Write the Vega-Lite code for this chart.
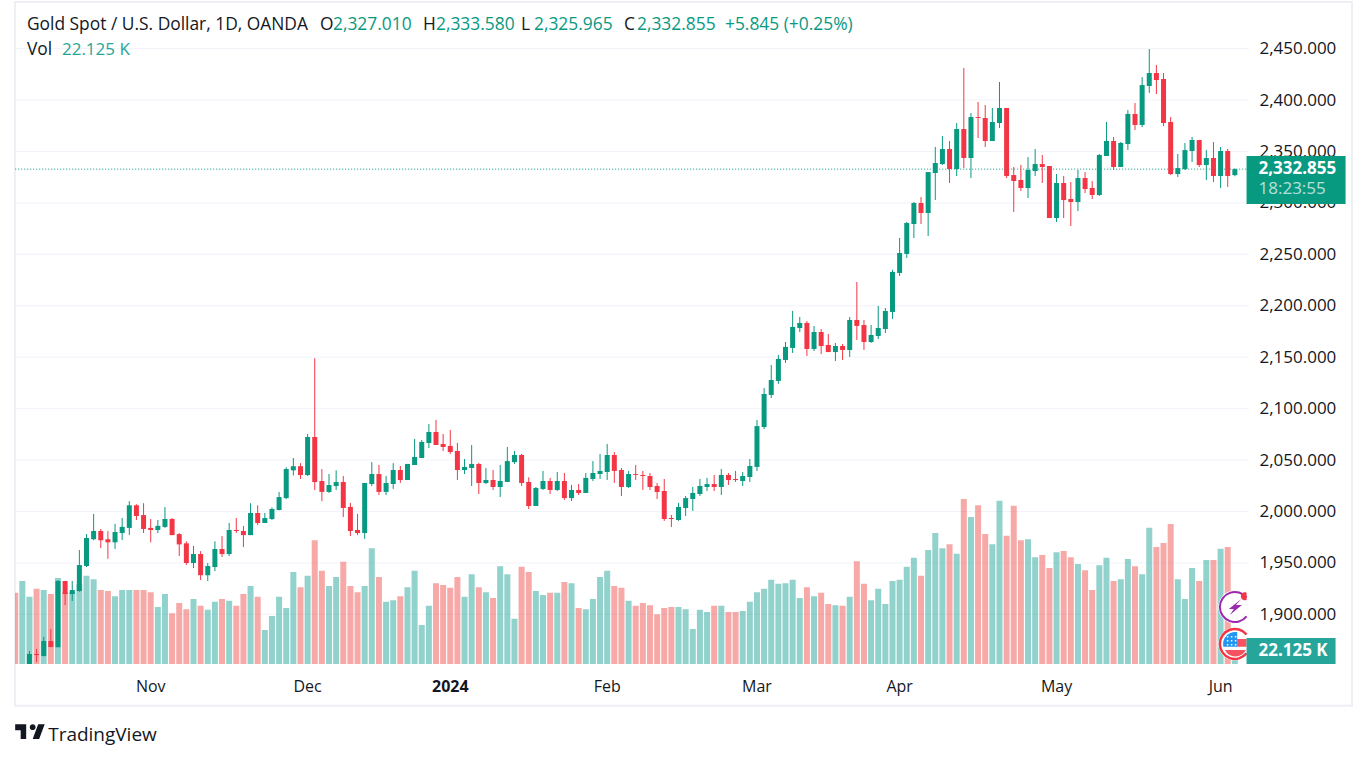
{
  "$schema": "https://vega.github.io/schema/vega-lite/v6.json",
  "width": 1337,
  "height": 703.7,
  "autosize": "none",
  "padding": {"left": 15, "top": 2, "right": 9, "bottom": 52},
  "background": "#ffffff",
  "title": {"text": "TradingView", "orient": "bottom", "anchor": "start", "offset": -13, "dx": 35, "font": "Open Sans", "fontSize": 19, "fontWeight": "normal", "color": "#131722"},
  "config": {
    "view": {"stroke": "#eeeff5", "strokeWidth": 2},
    "text": {"font": "Open Sans"}
  },
  "datasets": {
    "candles": [
      {"date":"2023-10-05","volume":126,"dir":"down"},
      {"date":"2023-10-06","volume":147,"dir":"up"},
      {"date":"2023-10-09","open":1832,"high":1864.3,"low":1830,"close":1861.4,"volume":119,"dir":"up"},
      {"date":"2023-10-10","open":1861.4,"high":1866.3,"low":1853.6,"close":1860.4,"volume":133,"dir":"down"},
      {"date":"2023-10-11","open":1859.5,"high":1878,"low":1859,"close":1874,"volume":131,"dir":"up"},
      {"date":"2023-10-12","open":1874,"high":1885.7,"low":1868,"close":1868.2,"volume":124,"dir":"down"},
      {"date":"2023-10-13","open":1868,"high":1933.4,"low":1868,"close":1932.4,"volume":152,"dir":"up"},
      {"date":"2023-10-16","open":1932.4,"high":1932.5,"low":1909,"close":1919.7,"volume":127,"dir":"down"},
      {"date":"2023-10-17","open":1919.7,"high":1932.4,"low":1913,"close":1923.6,"volume":127,"dir":"up"},
      {"date":"2023-10-18","open":1922.6,"high":1962.5,"low":1922,"close":1947.9,"volume":142,"dir":"up"},
      {"date":"2023-10-19","open":1947,"high":1978,"low":1946,"close":1974.2,"volume":156,"dir":"up"},
      {"date":"2023-10-20","open":1973,"high":1997.5,"low":1972,"close":1981,"volume":150,"dir":"up"},
      {"date":"2023-10-23","open":1981,"high":1983,"low":1964.5,"close":1972,"volume":131,"dir":"down"},
      {"date":"2023-10-24","open":1973,"high":1981,"low":1954,"close":1970,"volume":129,"dir":"down"},
      {"date":"2023-10-25","open":1970,"high":1988,"low":1963.5,"close":1980,"volume":120,"dir":"up"},
      {"date":"2023-10-26","open":1979,"high":1993.6,"low":1972.2,"close":1985,"volume":131,"dir":"up"},
      {"date":"2023-10-27","open":1984,"high":2010,"low":1977,"close":2006,"volume":131,"dir":"up"},
      {"date":"2023-10-30","open":2006,"high":2007,"low":1991.7,"close":1995.6,"volume":131,"dir":"down"},
      {"date":"2023-10-31","open":1996.5,"high":2008,"low":1979,"close":1983,"volume":131,"dir":"down"},
      {"date":"2023-11-01","open":1984,"high":1992.7,"low":1970,"close":1982,"volume":127,"dir":"down"},
      {"date":"2023-11-02","open":1982,"high":1991.7,"low":1979,"close":1986,"volume":101,"dir":"up"},
      {"date":"2023-11-03","open":1985,"high":2004.3,"low":1984,"close":1992.7,"volume":124,"dir":"up"},
      {"date":"2023-11-06","open":1992.7,"high":1993.6,"low":1977,"close":1977,"volume":90,"dir":"down"},
      {"date":"2023-11-07","open":1978,"high":1979,"low":1956.7,"close":1968,"volume":108,"dir":"down"},
      {"date":"2023-11-08","open":1969,"high":1971,"low":1948,"close":1949.9,"volume":97,"dir":"down"},
      {"date":"2023-11-09","open":1949.9,"high":1966.4,"low":1945,"close":1958.6,"volume":115,"dir":"up"},
      {"date":"2023-11-10","open":1958.6,"high":1961.5,"low":1933.3,"close":1938,"volume":103,"dir":"down"},
      {"date":"2023-11-13","open":1938,"high":1949.9,"low":1932.4,"close":1947,"volume":96,"dir":"up"},
      {"date":"2023-11-14","open":1946,"high":1971,"low":1942,"close":1963.5,"volume":110,"dir":"up"},
      {"date":"2023-11-15","open":1963.5,"high":1976,"low":1955.7,"close":1958.6,"volume":115,"dir":"down"},
      {"date":"2023-11-16","open":1958.6,"high":1988.8,"low":1956.7,"close":1982,"volume":112,"dir":"up"},
      {"date":"2023-11-17","open":1982,"high":1993.6,"low":1979,"close":1981,"volume":103,"dir":"down"},
      {"date":"2023-11-20","open":1981,"high":1985.9,"low":1965.4,"close":1977,"volume":124,"dir":"down"},
      {"date":"2023-11-21","open":1977,"high":2008,"low":1977,"close":1998.5,"volume":138,"dir":"up"},
      {"date":"2023-11-22","open":1998.5,"high":2006,"low":1986.8,"close":1988.8,"volume":119,"dir":"down"},
      {"date":"2023-11-23","open":1988.8,"high":1998.5,"low":1988.8,"close":1993.6,"volume":60,"dir":"up"},
      {"date":"2023-11-24","open":1992.7,"high":2004,"low":1991.7,"close":2002.4,"volume":85,"dir":"up"},
      {"date":"2023-11-27","open":2001.4,"high":2019,"low":2001,"close":2014,"volume":119,"dir":"up"},
      {"date":"2023-11-28","open":2013,"high":2043,"low":2012,"close":2041.3,"volume":99,"dir":"up"},
      {"date":"2023-11-29","open":2040,"high":2052,"low":2035,"close":2044,"volume":163,"dir":"up"},
      {"date":"2023-11-30","open":2044,"high":2047,"low":2031.6,"close":2035.4,"volume":136,"dir":"down"},
      {"date":"2023-12-01","open":2035.4,"high":2075.3,"low":2034.5,"close":2072.4,"volume":156,"dir":"up"},
      {"date":"2023-12-04","open":2072.4,"high":2149,"low":2020.9,"close":2028.6,"volume":219,"dir":"down"},
      {"date":"2023-12-05","open":2029.6,"high":2041.3,"low":2010,"close":2019,"volume":165,"dir":"down"},
      {"date":"2023-12-06","open":2019,"high":2036.4,"low":2018,"close":2025.7,"volume":138,"dir":"up"},
      {"date":"2023-12-07","open":2024.7,"high":2040,"low":2020.9,"close":2028.6,"volume":154,"dir":"up"},
      {"date":"2023-12-08","open":2028.7,"high":2034.5,"low":1994.6,"close":2003.4,"volume":181,"dir":"down"},
      {"date":"2023-12-11","open":2004.4,"high":2008.3,"low":1976.2,"close":1981,"volume":138,"dir":"down"},
      {"date":"2023-12-12","open":1982,"high":1997.6,"low":1977.1,"close":1979,"volume":127,"dir":"down"},
      {"date":"2023-12-13","open":1979,"high":2027.7,"low":1973.3,"close":2027.7,"volume":138,"dir":"up"},
      {"date":"2023-12-14","open":2026.7,"high":2048,"low":2024.8,"close":2036.4,"volume":205,"dir":"up"},
      {"date":"2023-12-15","open":2036.4,"high":2045.2,"low":2016,"close":2019,"volume":154,"dir":"down"},
      {"date":"2023-12-18","open":2019,"high":2034.5,"low":2016,"close":2027.7,"volume":110,"dir":"up"},
      {"date":"2023-12-19","open":2026.7,"high":2047,"low":2021.9,"close":2040.3,"volume":113,"dir":"up"},
      {"date":"2023-12-20","open":2040.3,"high":2044.2,"low":2027.7,"close":2030.6,"volume":120,"dir":"down"},
      {"date":"2023-12-21","open":2030.6,"high":2046.2,"low":2030.6,"close":2046.2,"volume":136,"dir":"up"},
      {"date":"2023-12-22","open":2045.2,"high":2070.5,"low":2045.2,"close":2053,"volume":165,"dir":"up"},
      {"date":"2023-12-26","open":2052,"high":2069.5,"low":2052,"close":2067.6,"volume":69,"dir":"up"},
      {"date":"2023-12-27","open":2066.6,"high":2085,"low":2061.7,"close":2077.3,"volume":103,"dir":"up"},
      {"date":"2023-12-28","open":2077.3,"high":2089,"low":2064.6,"close":2064.6,"volume":143,"dir":"down"},
      {"date":"2023-12-29","open":2065.6,"high":2075.3,"low":2058.8,"close":2062.7,"volume":140,"dir":"down"},
      {"date":"2024-01-02","open":2063.7,"high":2079.2,"low":2055.9,"close":2057.8,"volume":135,"dir":"down"},
      {"date":"2024-01-03","open":2058.8,"high":2066.6,"low":2030.6,"close":2040.3,"volume":154,"dir":"down"},
      {"date":"2024-01-04","open":2040.3,"high":2051,"low":2036.4,"close":2043.3,"volume":119,"dir":"up"},
      {"date":"2024-01-05","open":2042.3,"high":2064.6,"low":2024.8,"close":2046.2,"volume":159,"dir":"up"},
      {"date":"2024-01-08","open":2046.2,"high":2047.2,"low":2017,"close":2027.7,"volume":136,"dir":"down"},
      {"date":"2024-01-09","open":2027.7,"high":2042.3,"low":2026.7,"close":2030.6,"volume":127,"dir":"up"},
      {"date":"2024-01-10","open":2030.6,"high":2040.3,"low":2020.9,"close":2023.8,"volume":117,"dir":"down"},
      {"date":"2024-01-11","open":2023.8,"high":2045.2,"low":2014,"close":2029.6,"volume":173,"dir":"up"},
      {"date":"2024-01-12","open":2028.7,"high":2062.7,"low":2028.7,"close":2049,"volume":159,"dir":"up"},
      {"date":"2024-01-15","open":2048,"high":2058.8,"low":2046.2,"close":2054.9,"volume":80,"dir":"up"},
      {"date":"2024-01-16","open":2054.9,"high":2055.9,"low":2024.8,"close":2027.7,"volume":172,"dir":"down"},
      {"date":"2024-01-17","open":2028.7,"high":2033.2,"low":2002.4,"close":2005.3,"volume":163,"dir":"down"},
      {"date":"2024-01-18","open":2005.3,"high":2023.8,"low":2005.3,"close":2022.8,"volume":129,"dir":"up"},
      {"date":"2024-01-19","open":2021.9,"high":2039.4,"low":2020.9,"close":2029.6,"volume":122,"dir":"up"},
      {"date":"2024-01-22","open":2029.6,"high":2032.6,"low":2017,"close":2020.9,"volume":126,"dir":"down"},
      {"date":"2024-01-23","open":2020.9,"high":2038.4,"low":2019.9,"close":2029.6,"volume":126,"dir":"up"},
      {"date":"2024-01-24","open":2029.6,"high":2037.4,"low":2011.2,"close":2013,"volume":145,"dir":"down"},
      {"date":"2024-01-25","open":2013,"high":2025.8,"low":2010.2,"close":2020.9,"volume":143,"dir":"up"},
      {"date":"2024-01-26","open":2020.9,"high":2026.7,"low":2016,"close":2018,"volume":99,"dir":"down"},
      {"date":"2024-01-29","open":2018,"high":2037.4,"low":2018,"close":2032.6,"volume":97,"dir":"up"},
      {"date":"2024-01-30","open":2031.6,"high":2049,"low":2029.6,"close":2037.4,"volume":115,"dir":"up"},
      {"date":"2024-01-31","open":2036.4,"high":2055.9,"low":2031.6,"close":2039.4,"volume":154,"dir":"up"},
      {"date":"2024-02-01","open":2038.4,"high":2065.6,"low":2030.6,"close":2054.9,"volume":165,"dir":"up"},
      {"date":"2024-02-02","open":2054.9,"high":2057.8,"low":2027.7,"close":2039.4,"volume":138,"dir":"down"},
      {"date":"2024-02-05","open":2040.3,"high":2042.3,"low":2015,"close":2023.8,"volume":135,"dir":"down"},
      {"date":"2024-02-06","open":2023.8,"high":2039.4,"low":2022.8,"close":2036.4,"volume":112,"dir":"up"},
      {"date":"2024-02-07","open":2036.4,"high":2045.2,"low":2030.6,"close":2035.5,"volume":103,"dir":"down"},
      {"date":"2024-02-08","open":2035.5,"high":2039.4,"low":2020.9,"close":2034.5,"volume":108,"dir":"down"},
      {"date":"2024-02-09","open":2034.5,"high":2037.4,"low":2020.9,"close":2023.8,"volume":104,"dir":"down"},
      {"date":"2024-02-12","open":2024.8,"high":2027.7,"low":2012.1,"close":2018.9,"volume":88,"dir":"down"},
      {"date":"2024-02-13","open":2019.9,"high":2031.6,"low":1990.8,"close":1992.7,"volume":99,"dir":"down"},
      {"date":"2024-02-14","open":1993.7,"high":1996.6,"low":1984.9,"close":1992.7,"volume":101,"dir":"down"},
      {"date":"2024-02-15","open":1991.7,"high":2008.3,"low":1990.8,"close":2004.4,"volume":101,"dir":"up"},
      {"date":"2024-02-16","open":2003.4,"high":2015,"low":1995.6,"close":2013,"volume":97,"dir":"up"},
      {"date":"2024-02-19","open":2012.1,"high":2023.8,"low":2000.5,"close":2018,"volume":62,"dir":"up"},
      {"date":"2024-02-20","open":2017,"high":2031.6,"low":2015,"close":2024.8,"volume":96,"dir":"up"},
      {"date":"2024-02-21","open":2023.8,"high":2032.6,"low":2019.9,"close":2026.7,"volume":92,"dir":"up"},
      {"date":"2024-02-22","open":2026.7,"high":2035.5,"low":2019.9,"close":2023.8,"volume":103,"dir":"down"},
      {"date":"2024-02-23","open":2023.8,"high":2041.3,"low":2016,"close":2035.5,"volume":103,"dir":"up"},
      {"date":"2024-02-26","open":2035.5,"high":2037.4,"low":2025.8,"close":2030.6,"volume":92,"dir":"down"},
      {"date":"2024-02-27","open":2031.6,"high":2039.4,"low":2028.7,"close":2030.6,"volume":92,"dir":"down"},
      {"date":"2024-02-28","open":2029.6,"high":2038.4,"low":2024.8,"close":2034.5,"volume":94,"dir":"up"},
      {"date":"2024-02-29","open":2033.5,"high":2051,"low":2028.7,"close":2044.2,"volume":110,"dir":"up"},
      {"date":"2024-03-01","open":2043.3,"high":2089,"low":2039.4,"close":2083,"volume":127,"dir":"up"},
      {"date":"2024-03-04","open":2082.1,"high":2120,"low":2080.2,"close":2114.2,"volume":133,"dir":"up"},
      {"date":"2024-03-05","open":2113.3,"high":2142.4,"low":2110.3,"close":2127.8,"volume":149,"dir":"up"},
      {"date":"2024-03-06","open":2126.9,"high":2152.2,"low":2124,"close":2148.3,"volume":142,"dir":"up"},
      {"date":"2024-03-07","open":2147.3,"high":2164.8,"low":2144.4,"close":2160,"volume":143,"dir":"up"},
      {"date":"2024-03-08","open":2159,"high":2195,"low":2154.1,"close":2179.4,"volume":149,"dir":"up"},
      {"date":"2024-03-11","open":2178.4,"high":2189.1,"low":2174.5,"close":2183.3,"volume":117,"dir":"up"},
      {"date":"2024-03-12","open":2183.3,"high":2185.2,"low":2151.2,"close":2158,"volume":136,"dir":"down"},
      {"date":"2024-03-13","open":2158,"high":2180.4,"low":2156,"close":2174.5,"volume":120,"dir":"up"},
      {"date":"2024-03-14","open":2174.5,"high":2177.4,"low":2153.1,"close":2160.9,"volume":126,"dir":"down"},
      {"date":"2024-03-15","open":2161.9,"high":2172.6,"low":2155,"close":2155,"volume":106,"dir":"down"},
      {"date":"2024-03-18","open":2155,"high":2163.8,"low":2146.3,"close":2160.9,"volume":104,"dir":"up"},
      {"date":"2024-03-19","open":2160.9,"high":2162.9,"low":2147.3,"close":2157,"volume":103,"dir":"down"},
      {"date":"2024-03-20","open":2157,"high":2189.1,"low":2150.2,"close":2186.2,"volume":119,"dir":"up"},
      {"date":"2024-03-21","open":2186.2,"high":2223.1,"low":2166.7,"close":2180.4,"volume":182,"dir":"down"},
      {"date":"2024-03-22","open":2181.3,"high":2186.2,"low":2157,"close":2164.8,"volume":142,"dir":"down"},
      {"date":"2024-03-25","open":2164.8,"high":2181.3,"low":2163.8,"close":2171.6,"volume":113,"dir":"up"},
      {"date":"2024-03-26","open":2170.6,"high":2199.8,"low":2167.7,"close":2178.4,"volume":133,"dir":"up"},
      {"date":"2024-03-27","open":2177.4,"high":2197.9,"low":2173.5,"close":2194.9,"volume":106,"dir":"up"},
      {"date":"2024-03-28","open":2194,"high":2235,"low":2187.2,"close":2232.9,"volume":147,"dir":"up"},
      {"date":"2024-04-01","open":2231.9,"high":2265.9,"low":2229,"close":2251.3,"volume":149,"dir":"up"},
      {"date":"2024-04-02","open":2250.4,"high":2281.5,"low":2246.5,"close":2280.5,"volume":172,"dir":"up"},
      {"date":"2024-04-03","open":2279.5,"high":2300.9,"low":2265.9,"close":2299.9,"volume":188,"dir":"up"},
      {"date":"2024-04-04","open":2299.9,"high":2305.7,"low":2279.5,"close":2290.2,"volume":156,"dir":"down"},
      {"date":"2024-04-05","open":2290.2,"high":2330,"low":2267.8,"close":2330,"volume":202,"dir":"up"},
      {"date":"2024-04-08","open":2329.1,"high":2354.4,"low":2302.8,"close":2338.8,"volume":232,"dir":"up"},
      {"date":"2024-04-09","open":2337.8,"high":2365,"low":2336.9,"close":2352.4,"volume":205,"dir":"up"},
      {"date":"2024-04-10","open":2352.4,"high":2360.2,"low":2319.4,"close":2333,"volume":212,"dir":"down"},
      {"date":"2024-04-11","open":2333,"high":2377.7,"low":2326.2,"close":2371.9,"volume":195,"dir":"up"},
      {"date":"2024-04-12","open":2371.9,"high":2431.2,"low":2333.9,"close":2343.7,"volume":292,"dir":"down"},
      {"date":"2024-04-15","open":2343.7,"high":2387.4,"low":2324.2,"close":2383.5,"volume":260,"dir":"up"},
      {"date":"2024-04-16","open":2383.5,"high":2398.1,"low":2363.1,"close":2382.6,"volume":281,"dir":"down"},
      {"date":"2024-04-17","open":2382.6,"high":2395.2,"low":2354.4,"close":2360.2,"volume":230,"dir":"down"},
      {"date":"2024-04-18","open":2360.2,"high":2392.3,"low":2360.2,"close":2378.7,"volume":212,"dir":"up"},
      {"date":"2024-04-19","open":2377.7,"high":2417.6,"low":2372.8,"close":2392.3,"volume":289,"dir":"up"},
      {"date":"2024-04-22","open":2392.3,"high":2392.3,"low":2324.2,"close":2326.2,"volume":227,"dir":"down"},
      {"date":"2024-04-23","open":2327.1,"high":2334.9,"low":2291.2,"close":2321.3,"volume":280,"dir":"down"},
      {"date":"2024-04-24","open":2322.3,"high":2336.9,"low":2311.6,"close":2314.5,"volume":219,"dir":"down"},
      {"date":"2024-04-25","open":2314.5,"high":2344.6,"low":2304.8,"close":2332,"volume":221,"dir":"up"},
      {"date":"2024-04-26","open":2331,"high":2352.4,"low":2326.2,"close":2337.8,"volume":189,"dir":"up"},
      {"date":"2024-04-29","open":2337.8,"high":2346.6,"low":2319.4,"close":2334.9,"volume":193,"dir":"down"},
      {"date":"2024-04-30","open":2335.9,"high":2335.9,"low":2285.3,"close":2285.3,"volume":170,"dir":"down"},
      {"date":"2024-05-01","open":2285.3,"high":2328.1,"low":2281.4,"close":2319.4,"volume":198,"dir":"up"},
      {"date":"2024-05-02","open":2319.4,"high":2326.2,"low":2285.3,"close":2302.8,"volume":200,"dir":"down"},
      {"date":"2024-05-03","open":2303.8,"high":2320.3,"low":2277.6,"close":2300.9,"volume":189,"dir":"down"},
      {"date":"2024-05-06","open":2300.9,"high":2332,"low":2292.1,"close":2324.2,"volume":177,"dir":"up"},
      {"date":"2024-05-07","open":2324.2,"high":2330,"low":2309.6,"close":2313.5,"volume":166,"dir":"down"},
      {"date":"2024-05-08","open":2314.5,"high":2321.3,"low":2303.8,"close":2307.7,"volume":131,"dir":"down"},
      {"date":"2024-05-09","open":2307.7,"high":2347.6,"low":2306.7,"close":2346.6,"volume":175,"dir":"up"},
      {"date":"2024-05-10","open":2345.6,"high":2378.7,"low":2345.6,"close":2360.2,"volume":188,"dir":"up"},
      {"date":"2024-05-13","open":2360.2,"high":2364.1,"low":2332,"close":2334.9,"volume":147,"dir":"down"},
      {"date":"2024-05-14","open":2334.9,"high":2359.2,"low":2334.9,"close":2358.3,"volume":150,"dir":"up"},
      {"date":"2024-05-15","open":2357.3,"high":2390.3,"low":2351.4,"close":2386.5,"volume":186,"dir":"up"},
      {"date":"2024-05-16","open":2386.5,"high":2397.1,"low":2370.9,"close":2375.8,"volume":173,"dir":"down"},
      {"date":"2024-05-17","open":2375.8,"high":2422.4,"low":2373.8,"close":2414.6,"volume":159,"dir":"up"},
      {"date":"2024-05-20","open":2413.7,"high":2449.6,"low":2406.9,"close":2426.3,"volume":241,"dir":"up"},
      {"date":"2024-05-21","open":2426.3,"high":2434.1,"low":2405.9,"close":2419.5,"volume":207,"dir":"down"},
      {"date":"2024-05-22","open":2420.5,"high":2426.3,"low":2374.8,"close":2377.7,"volume":214,"dir":"down"},
      {"date":"2024-05-23","open":2378.7,"high":2383.5,"low":2327.1,"close":2328.1,"volume":248,"dir":"down"},
      {"date":"2024-05-24","open":2328.1,"high":2347.6,"low":2325.2,"close":2333.9,"volume":150,"dir":"up"},
      {"date":"2024-05-27","open":2333,"high":2358.3,"low":2332,"close":2351.4,"volume":115,"dir":"up"},
      {"date":"2024-05-28","open":2350.5,"high":2364.1,"low":2339.8,"close":2361.2,"volume":170,"dir":"up"},
      {"date":"2024-05-29","open":2361.2,"high":2361.2,"low":2334.9,"close":2336.9,"volume":147,"dir":"down"},
      {"date":"2024-05-30","open":2336.9,"high":2351.4,"low":2322.3,"close":2343.7,"volume":184,"dir":"up"},
      {"date":"2024-05-31","open":2343.7,"high":2359.2,"low":2320.3,"close":2326.2,"volume":184,"dir":"down"},
      {"date":"2024-06-03","open":2326.2,"high":2354.4,"low":2314.5,"close":2350.5,"volume":204,"dir":"up"},
      {"date":"2024-06-04","open":2350.5,"high":2352.4,"low":2315.5,"close":2326.2,"volume":207,"dir":"down"},
      {"date":"2024-06-05","open":2327.01,"high":2333.58,"low":2325.965,"close":2332.855,"volume":22.125,"dir":"up"}
    ],
    "gridPrice": [
      {"date":"2023-10-05","price":1900},{"date":"2024-06-06","price":1900},{"date":"2024-06-07","price":1900},
      {"date":"2023-10-05","price":1950},{"date":"2024-06-07","price":1950},
      {"date":"2023-10-05","price":2000},{"date":"2024-06-07","price":2000},
      {"date":"2023-10-05","price":2050},{"date":"2024-06-07","price":2050},
      {"date":"2023-10-05","price":2100},{"date":"2024-06-07","price":2100},
      {"date":"2023-10-05","price":2150},{"date":"2024-06-07","price":2150},
      {"date":"2023-10-05","price":2200},{"date":"2024-06-07","price":2200},
      {"date":"2023-10-05","price":2250},{"date":"2024-06-07","price":2250},
      {"date":"2023-10-05","price":2300},{"date":"2024-06-07","price":2300},
      {"date":"2023-10-05","price":2350},{"date":"2024-06-07","price":2350},
      {"date":"2023-10-05","price":2400},{"date":"2024-06-07","price":2400},
      {"date":"2023-10-05","price":2450},{"date":"2024-06-07","price":2450}
    ],
    "gridMonth": [
      {"date":"2023-11-01"},{"date":"2023-12-01"},{"date":"2024-01-02"},{"date":"2024-02-01"},
      {"date":"2024-03-01"},{"date":"2024-04-01"},{"date":"2024-05-01"},{"date":"2024-06-03"}
    ],
    "lastPrice": [
      {"date":"2023-10-05","price":2332.855},{"date":"2024-06-07","price":2332.855}
    ],
    "last": [
      {"date":"2024-06-05","price":2332.855,"volume":22.125,"priceLabel":"2,332.855","clock":"18:23:55","volumeLabel":"22.125 K"}
    ],
    "eventIcon": [{"date":"2024-06-05","price":1907.1}],
    "flagIcon": [{"date":"2024-06-05","price":1871.2}]
  },
  "encoding": {
    "x": {
      "field": "date",
      "type": "ordinal",
      "scale": {"range": [-3.4, 1237.7]},
      "axis": {
        "title": null,
        "orient": "bottom",
        "values": ["2023-11-01","2023-12-01","2024-01-02","2024-02-01","2024-03-01","2024-04-01","2024-05-01","2024-06-03"],
        "labelExpr": "{'2023-11-01':'Nov','2023-12-01':'Dec','2024-01-02':'2024','2024-02-01':'Feb','2024-03-01':'Mar','2024-04-01':'Apr','2024-05-01':'May','2024-06-03':'Jun'}[datum.value]",
        "labelAngle": 0,
        "labelPadding": -27,
        "labelFont": "Open Sans",
        "labelFontSize": 16,
        "labelColor": "#131722",
        "labelFontWeight": {"expr": "datum.value == '2024-01-02' ? 'bold' : 'normal'"},
        "labelOverlap": false,
        "ticks": false,
        "domain": false,
        "grid": false
      }
    }
  },
  "layer": [
    {
      "encoding": {
        "y": {
          "field": "price",
          "type": "quantitative",
          "scale": {"domain": [1851.7, 2490.5], "range": [662, 5], "clamp": true, "nice": false, "zero": false},
          "axis": {
            "title": null,
            "orient": "right",
            "offset": -93,
            "values": [1900,1950,2000,2050,2100,2150,2200,2250,2300,2350,2400,2450],
            "format": ",.3f",
            "labelFont": "Open Sans",
            "labelFontSize": 17,
            "labelColor": "#131722",
            "labelPadding": 0,
            "ticks": false,
            "domain": false,
            "grid": false
          }
        }
      },
      "layer": [
        {
          "data": {"name": "gridPrice"},
          "mark": {"type": "line", "color": "#f0f3fa", "strokeWidth": 1},
          "encoding": {"detail": {"field": "price"}}
        },
        {
          "data": {"name": "gridMonth"},
          "mark": {"type": "rule", "color": "#f0f3fa", "strokeWidth": 1},
          "encoding": {"y": {"datum": 1851.7}, "y2": {"datum": 2490.5}}
        }
      ]
    },
    {
      "data": {"name": "candles"},
      "encoding": {
        "y": {
          "field": "volume",
          "type": "quantitative",
          "scale": {"domain": [0, 1163], "range": [662, 5], "nice": false, "zero": false},
          "axis": null
        }
      },
      "layer": [
        {
          "mark": {"type": "bar", "size": 6, "opacity": 0.5, "clip": true},
          "encoding": {
            "color": {"condition": {"test": "datum.dir == 'up'", "value": "#26a69a"}, "value": "#ef5350"}
          }
        }
      ]
    },
    {
      "encoding": {
        "y": {
          "field": "price",
          "type": "quantitative",
          "scale": {"domain": [1851.7, 2490.5], "range": [662, 5], "clamp": true, "nice": false, "zero": false},
          "axis": null
        }
      },
      "layer": [
        {
          "data": {"name": "lastPrice"},
          "mark": {"type": "line", "color": "#089981", "strokeWidth": 1, "strokeDash": [1, 2]},
          "encoding": {}
        },
        {
          "data": {"name": "candles"},
          "mark": {"type": "rule", "strokeWidth": 1},
          "encoding": {
            "y": {"field": "low", "type": "quantitative"},
            "y2": {"field": "high"},
            "color": {"condition": {"test": "datum.dir == 'up'", "value": "#089981"}, "value": "#f23645"}
          }
        },
        {
          "data": {"name": "candles"},
          "mark": {"type": "bar", "size": 5},
          "encoding": {
            "y": {"field": "open", "type": "quantitative"},
            "y2": {"field": "close"},
            "color": {"condition": {"test": "datum.dir == 'up'", "value": "#089981"}, "value": "#f23645"}
          }
        },
        {
          "data": {"name": "eventIcon"},
          "mark": {"type": "point", "filled": true, "opacity": 1, "size": 4, "color": "#ffffff", "shape": "M11.7-11.6A16.5 16.5 0 1 0 11.7 11.6Z"}
        },
        {
          "data": {"name": "eventIcon"},
          "mark": {"type": "point", "filled": false, "opacity": 1, "size": 4, "stroke": "#9c27b0", "strokeWidth": 2, "shape": "M11.7-9.4A15 15 0 1 0 11.7 9.4"}
        },
        {
          "data": {"name": "eventIcon"},
          "mark": {"type": "point", "filled": true, "opacity": 1, "size": 4, "color": "#9c27b0", "shape": "M6.5-8L-6 2H-1L-5 8L7-2H1Z"}
        },
        {
          "data": {"name": "eventIcon"},
          "mark": {"type": "point", "filled": true, "opacity": 1, "size": 4, "color": "#f23645", "shape": "M11.7-14.3A4 4 0 1 0 11.7-7.1Z"}
        },
        {
          "data": {"name": "flagIcon"},
          "mark": {"type": "point", "filled": true, "opacity": 1, "size": 4, "color": "#ffffff", "shape": "M11.7-11.6A16.5 16.5 0 1 0 11.7 11.6Z"}
        },
        {
          "data": {"name": "flagIcon"},
          "mark": {"type": "point", "filled": false, "opacity": 1, "size": 4, "stroke": "#f23645", "strokeWidth": 2.5, "shape": "M11.7-9.4A15 15 0 1 0 11.7 9.4"}
        },
        {
          "data": {"name": "flagIcon"},
          "mark": {"type": "point", "filled": true, "opacity": 1, "size": 4, "color": "#f7525f", "shape": "M2.3-5H11.7V2.7H2.3ZM-10 6H11L9 9A12 12 0 0 1-8 9Z"}
        },
        {
          "data": {"name": "flagIcon"},
          "mark": {"type": "point", "filled": true, "opacity": 1, "size": 4, "color": "#2196f3", "shape": "M2.3 2.7H-11.5A12 12 0 0 1 2.3-11.8Z"}
        },
        {
          "data": {"name": "flagIcon"},
          "mark": {"type": "point", "filled": true, "opacity": 1, "size": 4, "color": "#ffffff", "shape": "M-8-8h1.5v1.5h-1.5zM-4-8h1.5v1.5h-1.5zM0-8h1.5v1.5h-1.5zM-8-4h1.5v1.5h-1.5zM-4-4h1.5v1.5h-1.5zM0-4h1.5v1.5h-1.5zM-8 0h1.5v1.5h-1.5zM-4 0h1.5v1.5h-1.5zM0 0h1.5v1.5h-1.5z"}
        },
        {
          "data": {"name": "last"},
          "mark": {"type": "point", "filled": true, "opacity": 1, "size": 4, "color": "#089981", "shape": "M11.7-13.2H110.7V34.8H11.7Z"}
        },
        {
          "data": {"name": "last"},
          "mark": {"type": "text", "align": "left", "baseline": "middle", "dx": 23.7, "fontSize": 17, "fontWeight": "bold", "color": "#ffffff"},
          "encoding": {"text": {"field": "priceLabel"}}
        },
        {
          "data": {"name": "last"},
          "mark": {"type": "text", "align": "left", "baseline": "middle", "dx": 23.7, "dy": 20, "fontSize": 17, "color": "#ffffff", "opacity": 0.7},
          "encoding": {"text": {"field": "clock"}}
        },
        {
          "encoding": {"text": {"field": "label"}},
          "layer": [
            {"data": {"values": [{"date":"2023-10-05","price":2473,"label":"Gold Spot / U.S. Dollar, 1D, OANDA"}]}, "mark": {"type": "text", "align": "left", "baseline": "middle", "dx": 11.8, "fontSize": 17.4, "color": "#131722"}},
            {"data": {"values": [{"date":"2023-10-05","price":2473,"label":"O"}]}, "mark": {"type": "text", "align": "left", "baseline": "middle", "dx": 304.8, "fontSize": 17.4, "color": "#131722"}},
            {"data": {"values": [{"date":"2023-10-05","price":2473,"label":"2,327.010"}]}, "mark": {"type": "text", "align": "left", "baseline": "middle", "dx": 317.8, "fontSize": 17.4, "color": "#089981"}},
            {"data": {"values": [{"date":"2023-10-05","price":2473,"label":"H"}]}, "mark": {"type": "text", "align": "left", "baseline": "middle", "dx": 407.8, "fontSize": 17.4, "color": "#131722"}},
            {"data": {"values": [{"date":"2023-10-05","price":2473,"label":"2,333.580"}]}, "mark": {"type": "text", "align": "left", "baseline": "middle", "dx": 420.8, "fontSize": 17.4, "color": "#089981"}},
            {"data": {"values": [{"date":"2023-10-05","price":2473,"label":"L"}]}, "mark": {"type": "text", "align": "left", "baseline": "middle", "dx": 505.8, "fontSize": 17.4, "color": "#131722"}},
            {"data": {"values": [{"date":"2023-10-05","price":2473,"label":"2,325.965"}]}, "mark": {"type": "text", "align": "left", "baseline": "middle", "dx": 518.8, "fontSize": 17.4, "color": "#089981"}},
            {"data": {"values": [{"date":"2023-10-05","price":2473,"label":"C"}]}, "mark": {"type": "text", "align": "left", "baseline": "middle", "dx": 608.8, "fontSize": 17.4, "color": "#131722"}},
            {"data": {"values": [{"date":"2023-10-05","price":2473,"label":"2,332.855"}]}, "mark": {"type": "text", "align": "left", "baseline": "middle", "dx": 621.8, "fontSize": 17.4, "color": "#089981"}},
            {"data": {"values": [{"date":"2023-10-05","price":2473,"label":"+5.845 (+0.25%)"}]}, "mark": {"type": "text", "align": "left", "baseline": "middle", "dx": 709.8, "fontSize": 17.4, "color": "#089981"}},
            {"data": {"values": [{"date":"2023-10-05","price":2448.7,"label":"Vol"}]}, "mark": {"type": "text", "align": "left", "baseline": "middle", "dx": 11.8, "fontSize": 17.4, "color": "#131722"}},
            {"data": {"values": [{"date":"2023-10-05","price":2448.7,"label":"22.125 K"}]}, "mark": {"type": "text", "align": "left", "baseline": "middle", "dx": 46.8, "fontSize": 17, "color": "#26a69a"}}
          ]
        }
      ]
    },
    {
      "encoding": {
        "y": {
          "field": "volume",
          "type": "quantitative",
          "scale": {"domain": [0, 1163], "range": [662, 5], "nice": false, "zero": false},
          "axis": null
        }
      },
      "layer": [
        {
          "data": {"name": "last"},
          "mark": {"type": "point", "filled": true, "opacity": 1, "size": 4, "color": "#26a69a", "shape": "M11.7-13.5H100.7V12.5H11.7Z"}
        },
        {
          "data": {"name": "last"},
          "mark": {"type": "text", "align": "left", "baseline": "middle", "dx": 23.7, "fontSize": 17, "fontWeight": "bold", "color": "#ffffff"},
          "encoding": {"text": {"field": "volumeLabel"}}
        },
        {
          "data": {"values": [{"date":"2023-10-05","volume":0}]},
          "mark": {"type": "point", "filled": true, "opacity": 1, "size": 4, "color": "#131722", "shape": "M0 60.3H11V75H5.5V66.3H0ZM24 75H17.5L23 60.3H29.5ZM17.5 66.1A2.9 2.9 0 1 0 17.5 60.3A2.9 2.9 0 0 0 17.5 66.1Z"}
        }
      ]
    }
  ],
  "resolve": {"scale": {"y": "independent"}}
}
